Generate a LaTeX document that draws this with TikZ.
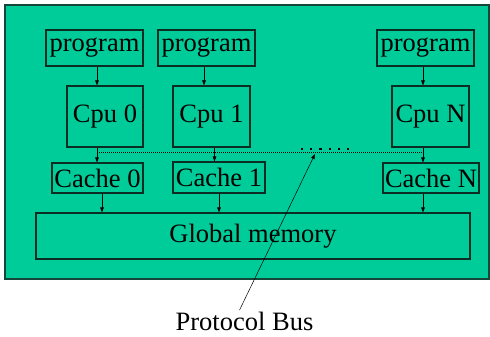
\documentclass[tikz,border=0pt]{standalone}
\usepackage{fontspec}
\setmainfont{Liberation Serif}
\usetikzlibrary{arrows.meta}
\definecolor{panelgreen}{RGB}{0,204,153}
\definecolor{paneledge}{RGB}{20,70,58}
\definecolor{boxedge}{RGB}{10,45,36}
\tikzset{
  unit/.style={draw=boxedge, line width=1.1pt, fill=panelgreen, inner sep=0pt,
    font=\fontsize{26.5}{30}\selectfont},
  arr/.style={-{Triangle[length=5pt,width=3.6pt]}, line width=0.6pt, draw=black},
  busline/.style={line width=0.6pt, dash pattern=on 1pt off 1pt},
}
\begin{document}
\begin{tikzpicture}[x=1pt,y=-1pt]
\useasboundingbox (0,0) rectangle (490,337);
% enclosing panel
\fill[white] (0,0) rectangle (490,337);
\draw[fill=panelgreen, draw=paneledge, line width=1.6pt] (5,5) rectangle (489,279);

% program boxes
\node[unit, minimum width=97pt, minimum height=36pt] (p0) at (94.5,48) {program};
\node[unit, minimum width=97pt, minimum height=36pt] (p1) at (206.5,48) {program};
\node[unit, minimum width=97pt, minimum height=36pt] (pN) at (425.5,48) {program};

% processors
\node[unit, minimum width=76pt, minimum height=61pt] (c0) at (105,116.5) {Cpu 0};
\node[unit, minimum width=77pt, minimum height=61pt] (c1) at (211.5,116.5) {Cpu 1};
\node[unit, minimum width=77pt, minimum height=61pt] (cN) at (430.5,116.5) {Cpu N};

% caches
\node[unit, minimum width=91pt, minimum height=30pt] (k0) at (97.5,178) {Cache 0};
\node[unit, minimum width=92pt, minimum height=31pt] (k1) at (219,177.5) {Cache 1};
\node[unit, minimum width=96pt, minimum height=30pt] (kN) at (431,178) {Cache N};

% shared memory
\node[unit, minimum width=434pt, minimum height=46pt] (mem) at (253,236) {Global memory};

% program -> cpu
\draw[arr] ([xshift=2.5pt]p0.south) -- ([xshift=2.5pt]p0.south |- c0.north);
\draw[arr] ([xshift=-2.5pt]p1.south) -- ([xshift=-2.5pt]p1.south |- c1.north);
\draw[arr] ([xshift=-2.5pt]pN.south) -- ([xshift=-2.5pt]pN.south |- cN.north);

% cpu -> cache
\draw[arr] ([xshift=-8pt]c0.south) -- ([xshift=-8pt]c0.south |- k0.north);
\draw[arr] ([xshift=3pt]c1.south) -- ([xshift=3pt]c1.south |- k1.north);
\draw[arr] ([xshift=-7.5pt]cN.south) -- ([xshift=-7.5pt]cN.south |- kN.north);

% cache -> memory
\draw[arr] ([xshift=4.5pt]k0.south) -- ([xshift=4.5pt]k0.south |- mem.north);
\draw[arr] (k1.south) -- (k1.south |- mem.north);
\draw[arr] ([xshift=-8pt]kN.south) -- ([xshift=-8pt]kN.south |- mem.north);

% protocol bus
\coordinate (b0) at (97,152.5);
\coordinate (bN) at (423,152.5);
\draw[busline] (b0) -- (bN);
\foreach \i in {0,...,5}
  \fill (301+9.2*\i,150) rectangle ++(2.2,-2);

% label and pointer
\node[font=\fontsize{26.5}{30}\selectfont] (lbl) at (244.5,321) {Protocol Bus};
\coordinate (tip) at (315,154);
\draw[arr, line width=0.5pt] ([xshift=-5pt,yshift=-2pt]lbl.north) -- (tip);
\end{tikzpicture}
\end{document}
